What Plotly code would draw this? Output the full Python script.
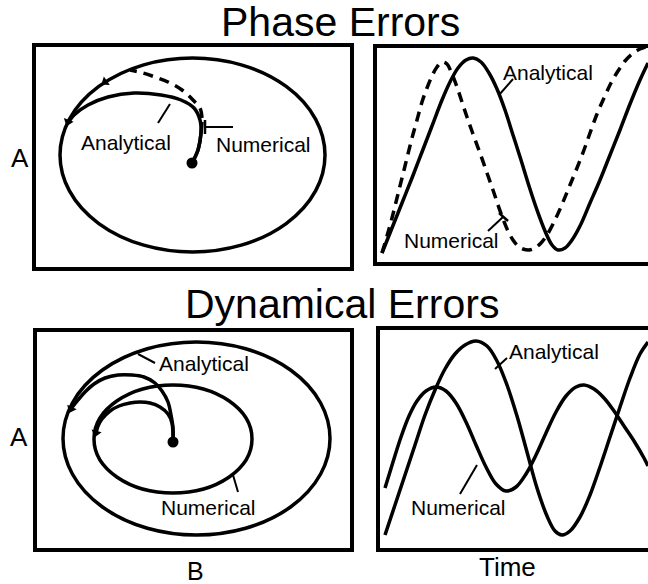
import plotly.graph_objects as go

W, H = 648, 584

# ---------------- data (pixel-like units) ----------------
# Phase errors, orbit panel
tl_orbit_x = [60, 325]
tl_orbit_y = [58, 252]
tl_start = (192, 163)
tl_analytical_x = [192, 198, 201, 200, 194, 181, 161, 134, 108, 88, 74, 68]
tl_analytical_y = [163, 150, 133, 120, 108, 100, 95, 93, 97, 105, 115, 123]
tl_numerical_solid_x = [192, 198, 201, 202]
tl_numerical_solid_y = [163, 150, 133, 122]
tl_numerical_dash_x = [202, 200, 193, 182, 168, 155, 143, 130]
tl_numerical_dash_y = [118, 108, 100, 90, 82, 77, 73, 70]
tl_arrows_x = [105, 68]
tl_arrows_y = [82, 122]

# Phase errors, time panel
tr_analytical_x = [382, 392, 402, 412, 422, 432, 442, 450, 458, 466, 473, 481, 489, 497, 505, 513,
                   521, 529, 537, 545, 552, 558, 565, 572, 580, 590, 600, 610, 620, 630, 640, 648]
tr_analytical_y = [253, 228, 203, 178, 152, 126, 100, 82, 68, 60, 58, 62, 73, 89, 110, 135,
                   160, 186, 210, 231, 245, 250, 248, 240, 226, 203, 180, 155, 130, 104, 80, 63]
tr_numerical_x = [382, 387, 392, 397, 402, 407, 412, 417, 422, 427, 432, 437, 442, 447, 452, 457,
                  462, 467, 473, 480, 487, 493, 498, 503, 508, 513, 518, 523, 529, 535, 541, 547,
                  555, 563, 570, 577, 584, 590, 597, 604, 611, 618, 625, 632, 640, 648]
tr_numerical_y = [253, 236, 218, 198, 178, 158, 138, 120, 102, 88, 76, 67, 62, 64, 74, 87,
                  102, 117, 134, 153, 173, 190, 205, 219, 231, 240, 246, 249, 250, 248, 243, 235,
                  220, 202, 185, 168, 150, 133, 114, 98, 83, 71, 61, 54, 49, 46]

# Dynamical errors, orbit panel
bl_outer_x = [63, 330]
bl_outer_y = [342, 535]
bl_inner_x = [94, 252]
bl_inner_y = [385, 493]
bl_start = (173, 442)
bl_analytical_x = [173, 173, 171, 168, 162, 155, 144, 132, 118, 105, 94, 85, 78, 71]
bl_analytical_y = [442, 428, 415, 402, 391, 383, 377, 375, 375, 378, 384, 392, 400, 409]
bl_numerical_x = [173, 172, 168, 160, 150, 140, 130, 119, 110, 102, 98, 96]
bl_numerical_y = [442, 423, 414, 407, 403, 402, 403, 406, 411, 419, 426, 433]
bl_arrows_x = [71, 96]
bl_arrows_y = [409, 433]

# Dynamical errors, time panel
br_analytical_x = [385, 395, 405, 415, 425, 435, 445, 455, 465, 476, 487, 497, 507, 517, 527, 537,
                   547, 555, 562, 570, 580, 590, 600, 610, 620, 630, 640, 648]
br_analytical_y = [535, 505, 475, 445, 415, 390, 369, 354, 345, 341, 346, 361, 385, 416, 452, 488,
                   516, 531, 535, 531, 517, 495, 467, 437, 407, 378, 354, 342]
br_numerical_x = [385, 393, 401, 409, 417, 426, 436, 446, 456, 466, 476, 486, 496, 506, 516, 526,
                  536, 546, 556, 566, 576, 584, 594, 604, 614, 624, 634, 644, 648]
br_numerical_y = [488, 462, 437, 416, 401, 391, 387, 391, 403, 422, 445, 467, 484, 491, 487, 474,
                  455, 433, 412, 396, 387, 385, 389, 398, 411, 426, 441, 458, 466]

titles = ["Phase Errors", "Dynamical Errors"]
curve_labels = ["Analytical", "Numerical"]
axis_labels = ["A", "B", "Time"]

# ---------------- layout helpers ----------------
panels = {  # axis suffix: (x0, x1, ytop, ybottom) in pixels
    "": (36, 350, 47, 267),
    "2": (377, 648, 48, 262),
    "3": (37, 350, 332, 548),
    "4": (380, 648, 330, 548),
}
FONT = "Liberation Sans, Arial, sans-serif"
LW = 3.5

fig = go.Figure()


def line(xs, ys, ax, dash=None, width=LW, shape="spline"):
    fig.add_trace(go.Scatter(
        x=xs, y=ys, mode="lines", xaxis="x" + ax, yaxis="y" + ax,
        line=dict(color="black", width=width, shape=shape, smoothing=1.0,
                  dash=dash if dash else "solid"),
        hoverinfo="skip", showlegend=False))


def dot(pt, ax, size=11):
    fig.add_trace(go.Scatter(
        x=[pt[0]], y=[pt[1]], mode="markers", xaxis="x" + ax, yaxis="y" + ax,
        marker=dict(color="black", size=size), hoverinfo="skip", showlegend=False))


def arrows(xs, ys, angles, ax):
    fig.add_trace(go.Scatter(
        x=xs, y=ys, mode="markers", xaxis="x" + ax, yaxis="y" + ax,
        marker=dict(color="black", size=9, symbol="triangle-up", angle=angles),
        hoverinfo="skip", showlegend=False))


def ellipse(xr, yr, ax):
    fig.add_shape(type="circle", xref="x" + ax, yref="y" + ax,
                  x0=xr[0], x1=xr[1], y0=yr[0], y1=yr[1],
                  line=dict(color="black", width=LW))


def label(text, x, y, ax, size=21):
    fig.add_annotation(text=text, x=x, y=y, xref="x" + ax, yref="y" + ax,
                       xanchor="center", yanchor="middle",
                       showarrow=False, font=dict(family=FONT, size=size, color="black"))


def plabel(text, px, py, size):
    fig.add_annotation(text=text, x=px / W, y=1 - py / H, xref="paper", yref="paper",
                       xanchor="center", yanchor="middle",
                       showarrow=False, font=dict(family=FONT, size=size, color="black"))


# ---- top-left: phase errors orbit
ellipse(tl_orbit_x, tl_orbit_y, "")
line(tl_analytical_x, tl_analytical_y, "")
line(tl_numerical_solid_x, tl_numerical_solid_y, "")
line(tl_numerical_dash_x, tl_numerical_dash_y, "", dash="10px,7px")
arrows(tl_arrows_x, tl_arrows_y, [235, 200], "")
dot(tl_start, "")
line([158, 170], [123, 104], "", width=2, shape="linear")
line([205, 233], [127, 127], "", width=2, shape="linear")
line([205, 205], [120, 134], "", width=2.5, shape="linear")
label(curve_labels[0], 126, 142, "")
label(curve_labels[1], 263, 144, "")

# ---- top-right: phase errors vs time
line(tr_analytical_x, tr_analytical_y, "2")
line(tr_numerical_x, tr_numerical_y, "2", dash="10px,7px")
line([513, 499], [79, 95], "2", width=2, shape="linear")
line([488, 503], [231, 217], "2", width=2, shape="linear")
line([499, 508], [213, 221], "2", width=2.5, shape="linear")
label(curve_labels[0], 548, 72, "2")
label(curve_labels[1], 451, 240, "2")

# ---- bottom-left: dynamical errors orbit
ellipse(bl_outer_x, bl_outer_y, "3")
ellipse(bl_inner_x, bl_inner_y, "3")
line(bl_analytical_x, bl_analytical_y, "3")
line(bl_numerical_x, bl_numerical_y, "3")
arrows(bl_arrows_x, bl_arrows_y, [205, 195], "3")
dot(bl_start, "3")
line([155, 138], [363, 354], "3", width=2, shape="linear")
line([238, 233], [492, 475], "3", width=2, shape="linear")
label(curve_labels[0], 204, 363, "3")
label(curve_labels[1], 208, 507, "3")

# ---- bottom-right: dynamical errors vs time
line(br_analytical_x, br_analytical_y, "4")
line(br_numerical_x, br_numerical_y, "4")
line([507, 495], [358, 369], "4", width=2, shape="linear")
line([460, 477], [494, 465], "4", width=2, shape="linear")
label(curve_labels[0], 554, 351, "4")
label(curve_labels[1], 458, 507, "4")

# ---- titles and axis labels
plabel(titles[0], 340, 22, 41)
plabel(titles[1], 342, 304, 41)
plabel(axis_labels[0], 20, 158, 26)
plabel(axis_labels[0], 19, 437, 26)
plabel(axis_labels[1], 195, 571, 25)
plabel(axis_labels[2], 507, 567, 26)

# ---- axes (one per panel, ranges equal to the panel's pixel extent)
layout = dict(width=W, height=H, margin=dict(l=0, r=0, t=0, b=0),
              paper_bgcolor="white", plot_bgcolor="white", showlegend=False)
for ax, (x0, x1, yt, yb) in panels.items():
    open_right = x1 >= W
    layout["xaxis" + ax] = dict(domain=[x0 / W, x1 / W], range=[x0, x1],
                                anchor="y" + ax, showline=True, mirror=True,
                                linecolor="black", linewidth=3.5,
                                showgrid=False, zeroline=False, showticklabels=False,
                                ticks="", fixedrange=True)
    layout["yaxis" + ax] = dict(domain=[1 - yb / H, 1 - yt / H], range=[yb, yt],
                                anchor="x" + ax, showline=True,
                                mirror=False if open_right else True,
                                linecolor="black", linewidth=3.5,
                                showgrid=False, zeroline=False, showticklabels=False,
                                ticks="", fixedrange=True)
fig.update_layout(**layout)

fig.write_html("out.html", config={"displayModeBar": False},
               post_script="document.body.style.margin='0';")
